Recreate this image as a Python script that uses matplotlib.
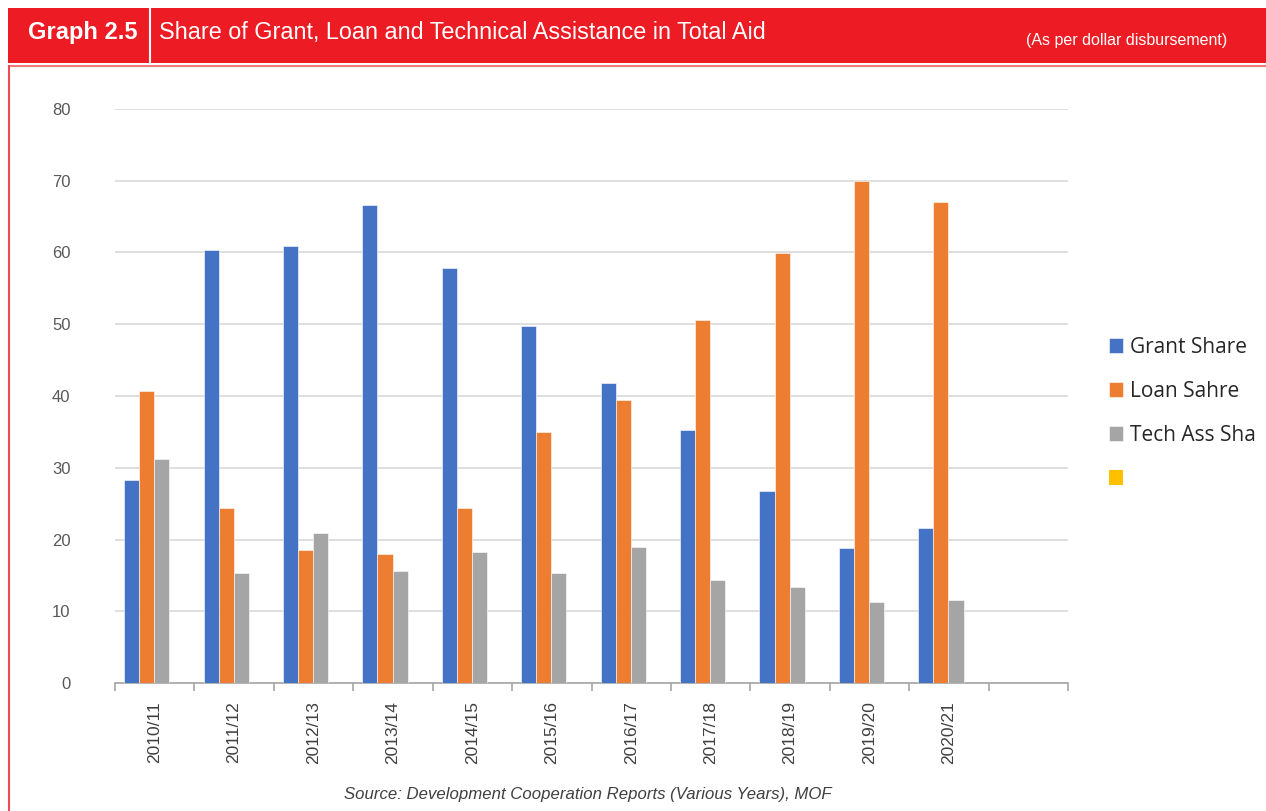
import numpy as np
import matplotlib.pyplot as plt
from matplotlib.patches import Rectangle

# Anteile in Prozent
years = ["2010/11", "2011/12", "2012/13", "2013/14", "2014/15", "2015/16",
         "2016/17", "2017/18", "2018/19", "2019/20", "2020/21", ""]
grant = [28.3, 60.3, 60.9, 66.6, 57.8, 49.8, 41.8, 35.3, 26.8, 18.8, 21.6]
loan = [40.7, 24.4, 18.5, 18.0, 24.4, 35.0, 39.4, 50.6, 59.9, 70.0, 67.0]
tech = [31.2, 15.3, 20.9, 15.6, 18.3, 15.3, 19.0, 14.4, 13.4, 11.3, 11.6]
series_names = ["Grant Share", "Loan Sahre", "Tech Ass Sha", ""]
colors = ["#4472C4", "#ED7D31", "#A5A5A5", "#FFC000"]
yticks = [0, 10, 20, 30, 40, 50, 60, 70, 80]

RED = "#ED1C24"
W, H = 1266, 811

fig = plt.figure(figsize=(W / 100, H / 100), dpi=100)

# Kopfzeile
fig.patches.append(Rectangle((8 / W, 1 - 63 / H), 1 - 8 / W, 55 / H,
                             transform=fig.transFigure, facecolor=RED, edgecolor="none"))
fig.lines.append(plt.Line2D([150 / W, 150 / W], [1 - 8 / H, 1 - 63 / H],
                            transform=fig.transFigure, color="white", lw=1.5))
# Rahmen unten
fig.lines.append(plt.Line2D([8.5 / W, 1], [1 - 66 / H, 1 - 66 / H],
                            transform=fig.transFigure, color="#F27A7E", lw=1.5))
fig.lines.append(plt.Line2D([8.5 / W, 8.5 / W], [1 - 66 / H, 0],
                            transform=fig.transFigure, color="#F04A50", lw=1.5))

fig.text(28 / W, 1 - 33 / H, "Graph 2.5", color="white", fontsize=17,
         fontweight="bold", family="Liberation Sans", va="center", ha="left")
fig.text(159 / W, 1 - 32 / H, "Share of Grant, Loan and Technical Assistance in Total Aid",
         color="white", fontsize=16.8, family="Liberation Sans", va="center", ha="left")
fig.text(1227 / W, 1 - 41 / H, "(As per dollar disbursement)", color="white",
         fontsize=11.5, family="Liberation Sans", va="center", ha="right")

ax = fig.add_axes([115 / W, 1 - 683 / H, (1068 - 115) / W, (683 - 109) / H])

x = np.arange(len(grant))
bw = 0.19
off = -0.1
for i, (vals, c) in enumerate(zip([grant, loan, tech], colors)):
    ax.bar(x + off + (i - 1) * bw, vals, width=bw, color=c, edgecolor="white",
           linewidth=0.4, label=series_names[i], zorder=3)
# leere vierte Serie nur fuer die Legende
ax.bar([0], [0], width=0, color=colors[3], label=" ")

ax.set_xlim(-0.5, len(years) - 0.5)
ax.set_ylim(0, 80)
ax.set_yticks(yticks)
ax.set_yticklabels([str(v) for v in yticks], family="Liberation Sans",
                   fontsize=12, color="#595959")
ax.tick_params(axis="y", length=0, pad=32)
ax.yaxis.grid(True, color="#D9D9D9", lw=1.2, zorder=0)
ax.set_axisbelow(True)

ax.set_xticks(np.arange(len(years)))
ax.set_xticklabels(years, rotation=90, family="Liberation Sans", fontsize=12.5,
                   color="#404040")
ax.set_xticks(np.arange(len(years) + 1) - 0.5, minor=True)
ax.tick_params(axis="x", which="major", length=0, pad=13)
ax.tick_params(axis="x", which="minor", length=6, color="#A6A6A6", width=1.2)
for s in ["top", "right", "left"]:
    ax.spines[s].set_visible(False)
ax.spines["bottom"].set_color("#A6A6A6")
ax.spines["bottom"].set_linewidth(1.2)

leg = ax.legend(loc="center left", bbox_to_anchor=(1.023, 0.47), frameon=False,
                prop={"family": "Open Sans", "size": 15}, handlelength=0.7,
                handleheight=0.7, handletextpad=0.3, labelspacing=1.1,
                labelcolor="#262626")

fig.text(588 / W, 1 - 795 / H,
         "Source: Development Cooperation Reports (Various Years), MOF",
         fontsize=12.1, style="italic", family="Liberation Sans", color="#404040",
         ha="center", va="center")

fig.savefig("out.png", dpi=100)
